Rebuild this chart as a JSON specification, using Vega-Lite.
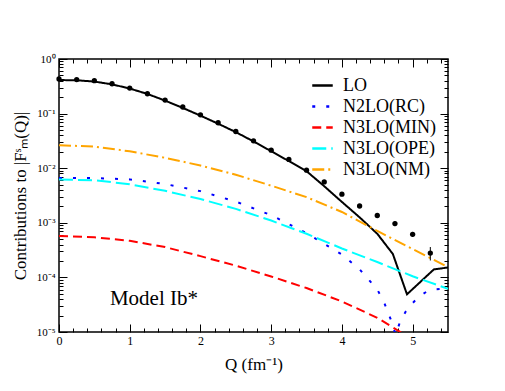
{
  "$schema": "https://vega.github.io/schema/vega-lite/v6.json",
  "autosize": "none",
  "width": 389,
  "height": 273,
  "padding": {"left": 59, "top": 59, "right": 57, "bottom": 59},
  "background": "white",
  "config": {
    "font": "Liberation Serif",
    "view": {"stroke": "black", "strokeWidth": 1.5},
    "axis": {
      "domain": false, "grid": false, "tickColor": "black", "tickWidth": 1,
      "labelColor": "black", "labelFont": "Liberation Serif", "labelFontSize": 11,
      "titleFont": "Liberation Serif", "titleFontWeight": "normal", "titleFontSize": 17, "titleColor": "black",
      "labelOverlap": false, "labelFlush": false
    },
    "legend": {"labelFont": "Liberation Serif", "labelFontSize": 18, "labelColor": "black"}
  },
  "datasets": {
    "lines": [
      {"Q": 0, "F": 0.412, "s": "LO"},
      {"Q": 0.25, "F": 0.407, "s": "LO"},
      {"Q": 0.5, "F": 0.386, "s": "LO"},
      {"Q": 0.75, "F": 0.343, "s": "LO"},
      {"Q": 1.0, "F": 0.288, "s": "LO"},
      {"Q": 1.25, "F": 0.229, "s": "LO"},
      {"Q": 1.5, "F": 0.173, "s": "LO"},
      {"Q": 1.75, "F": 0.127, "s": "LO"},
      {"Q": 2.0, "F": 0.0918, "s": "LO"},
      {"Q": 2.25, "F": 0.0653, "s": "LO"},
      {"Q": 2.5, "F": 0.0458, "s": "LO"},
      {"Q": 2.75, "F": 0.0309, "s": "LO"},
      {"Q": 3.0, "F": 0.0205, "s": "LO"},
      {"Q": 3.25, "F": 0.0135, "s": "LO"},
      {"Q": 3.5, "F": 0.00881, "s": "LO"},
      {"Q": 3.75, "F": 0.00468, "s": "LO"},
      {"Q": 4.0, "F": 0.00241, "s": "LO"},
      {"Q": 4.25, "F": 0.00126, "s": "LO"},
      {"Q": 4.5, "F": 0.00063, "s": "LO"},
      {"Q": 4.72, "F": 0.000269, "s": "LO"},
      {"Q": 4.92, "F": 0.000049, "s": "LO"},
      {"Q": 5.3, "F": 0.00014, "s": "LO"},
      {"Q": 5.5, "F": 0.000152, "s": "LO"},

      {"Q": 0, "F": 0.00664, "s": "N2LO(RC)"},
      {"Q": 0.5, "F": 0.00661, "s": "N2LO(RC)"},
      {"Q": 1.0, "F": 0.00624, "s": "N2LO(RC)"},
      {"Q": 1.5, "F": 0.00513, "s": "N2LO(RC)"},
      {"Q": 2.0, "F": 0.0038, "s": "N2LO(RC)"},
      {"Q": 2.5, "F": 0.00245, "s": "N2LO(RC)"},
      {"Q": 3.0, "F": 0.00138, "s": "N2LO(RC)"},
      {"Q": 3.5, "F": 0.000646, "s": "N2LO(RC)"},
      {"Q": 4.0, "F": 0.000263, "s": "N2LO(RC)"},
      {"Q": 4.25, "F": 0.000141, "s": "N2LO(RC)"},
      {"Q": 4.5, "F": 0.0000603, "s": "N2LO(RC)"},
      {"Q": 4.6, "F": 0.0000339, "s": "N2LO(RC)"},
      {"Q": 4.7, "F": 0.0000158, "s": "N2LO(RC)"},
      {"Q": 4.76, "F": 0.0000089, "s": "N2LO(RC)"},
      {"Q": 4.82, "F": 0.0000151, "s": "N2LO(RC)"},
      {"Q": 4.9, "F": 0.0000234, "s": "N2LO(RC)"},
      {"Q": 5.0, "F": 0.0000339, "s": "N2LO(RC)"},
      {"Q": 5.1, "F": 0.0000457, "s": "N2LO(RC)"},
      {"Q": 5.2, "F": 0.000055, "s": "N2LO(RC)"},
      {"Q": 5.3, "F": 0.0000603, "s": "N2LO(RC)"},
      {"Q": 5.5, "F": 0.0000631, "s": "N2LO(RC)"},

      {"Q": 0, "F": 0.000573, "s": "N3LO(MIN)"},
      {"Q": 0.5, "F": 0.000543, "s": "N3LO(MIN)"},
      {"Q": 1.0, "F": 0.000468, "s": "N3LO(MIN)"},
      {"Q": 1.5, "F": 0.000359, "s": "N3LO(MIN)"},
      {"Q": 2.0, "F": 0.000245, "s": "N3LO(MIN)"},
      {"Q": 2.5, "F": 0.000164, "s": "N3LO(MIN)"},
      {"Q": 3.0, "F": 0.000104, "s": "N3LO(MIN)"},
      {"Q": 3.5, "F": 0.0000638, "s": "N3LO(MIN)"},
      {"Q": 4.0, "F": 0.0000363, "s": "N3LO(MIN)"},
      {"Q": 4.5, "F": 0.0000182, "s": "N3LO(MIN)"},
      {"Q": 4.8, "F": 0.0000105, "s": "N3LO(MIN)"},
      {"Q": 5.0, "F": 0.00000708, "s": "N3LO(MIN)"},

      {"Q": 0, "F": 0.00619, "s": "N3LO(OPE)"},
      {"Q": 0.5, "F": 0.00603, "s": "N3LO(OPE)"},
      {"Q": 1.0, "F": 0.00507, "s": "N3LO(OPE)"},
      {"Q": 1.5, "F": 0.00385, "s": "N3LO(OPE)"},
      {"Q": 2.0, "F": 0.00272, "s": "N3LO(OPE)"},
      {"Q": 2.5, "F": 0.0018, "s": "N3LO(OPE)"},
      {"Q": 3.0, "F": 0.0011, "s": "N3LO(OPE)"},
      {"Q": 3.5, "F": 0.000631, "s": "N3LO(OPE)"},
      {"Q": 4.0, "F": 0.000339, "s": "N3LO(OPE)"},
      {"Q": 4.5, "F": 0.000191, "s": "N3LO(OPE)"},
      {"Q": 5.0, "F": 0.000105, "s": "N3LO(OPE)"},
      {"Q": 5.5, "F": 0.0000617, "s": "N3LO(OPE)"},

      {"Q": 0, "F": 0.0264, "s": "N3LO(NM)"},
      {"Q": 0.5, "F": 0.0248, "s": "N3LO(NM)"},
      {"Q": 1.0, "F": 0.0204, "s": "N3LO(NM)"},
      {"Q": 1.5, "F": 0.0155, "s": "N3LO(NM)"},
      {"Q": 2.0, "F": 0.0112, "s": "N3LO(NM)"},
      {"Q": 2.5, "F": 0.00759, "s": "N3LO(NM)"},
      {"Q": 3.0, "F": 0.00479, "s": "N3LO(NM)"},
      {"Q": 3.5, "F": 0.00295, "s": "N3LO(NM)"},
      {"Q": 4.0, "F": 0.00158, "s": "N3LO(NM)"},
      {"Q": 4.5, "F": 0.000708, "s": "N3LO(NM)"},
      {"Q": 5.0, "F": 0.000331, "s": "N3LO(NM)"},
      {"Q": 5.5, "F": 0.000155, "s": "N3LO(NM)"}
    ],
    "exp": [
      {"Q": 0, "F": 0.43},
      {"Q": 0.25, "F": 0.42},
      {"Q": 0.5, "F": 0.40},
      {"Q": 0.75, "F": 0.352},
      {"Q": 1.0, "F": 0.294},
      {"Q": 1.25, "F": 0.231},
      {"Q": 1.5, "F": 0.177},
      {"Q": 1.75, "F": 0.132},
      {"Q": 2.0, "F": 0.095},
      {"Q": 2.25, "F": 0.068},
      {"Q": 2.5, "F": 0.047},
      {"Q": 2.75, "F": 0.0317},
      {"Q": 3.0, "F": 0.0214},
      {"Q": 3.25, "F": 0.01445},
      {"Q": 3.5, "F": 0.0092},
      {"Q": 3.75, "F": 0.0056},
      {"Q": 4.0, "F": 0.00334},
      {"Q": 4.25, "F": 0.00203, "lo": 0.0019, "hi": 0.00216},
      {"Q": 4.5, "F": 0.00136, "lo": 0.00125, "hi": 0.00148},
      {"Q": 4.75, "F": 0.000966, "lo": 0.00087, "hi": 0.00107},
      {"Q": 5.0, "F": 0.000615, "lo": 0.00055, "hi": 0.00068},
      {"Q": 5.25, "F": 0.000279, "lo": 0.000204, "hi": 0.00036}
    ],
    "note": [{"label": "Model Ib*"}]
  },
  "resolve": {"axis": {"x": "independent", "y": "independent"}},
  "layer": [
    {
      "data": {"name": "lines"},
      "mark": {"type": "line", "strokeWidth": 2, "clip": true, "strokeCap": "butt"},
      "encoding": {
        "x": {
          "field": "Q", "type": "quantitative",
          "scale": {"domain": [0, 5.5], "nice": false, "zero": false},
          "axis": {
            "orient": "bottom", "title": "Q (fm⁻¹)",
            "values": [0,0.2,0.4,0.6,0.8,1,1.2,1.4,1.6,1.8,2,2.2,2.4,2.6,2.8,3,3.2,3.4,3.6,3.8,4,4.2,4.4,4.6,4.8,5,5.2,5.4],
            "tickSize": {"expr": "abs(datum.value - round(datum.value)) < 0.001 ? -8 : -4"},
            "labelExpr": "abs(datum.value - round(datum.value)) < 0.001 ? format(datum.value, 'd') : ''",
            "labelPadding": 11, "titlePadding": 6, "labelFontSize": 12
          }
        },
        "y": {
          "field": "F", "type": "quantitative",
          "scale": {"type": "log", "domain": [0.00001, 1], "nice": false},
          "axis": {
            "orient": "left", "title": "Contributions to |Fˢₘ(Q)|",
            "values": [0.00001,0.00002,0.00003,0.00004,0.00005,0.00006,0.00007,0.00008,0.00009,0.0001,0.0002,0.0003,0.0004,0.0005,0.0006,0.0007,0.0008,0.0009,0.001,0.002,0.003,0.004,0.005,0.006,0.007,0.008,0.009,0.01,0.02,0.03,0.04,0.05,0.06,0.07,0.08,0.09,0.1,0.2,0.3,0.4,0.5,0.6,0.7,0.8,0.9,1],
            "tickSize": {"expr": "abs(log(datum.value)/LN10 - round(log(datum.value)/LN10)) < 0.001 ? -8 : -4"},
            "labelExpr": "abs(log(datum.value)/LN10 - round(log(datum.value)/LN10)) < 0.001 ? ['10⁰','10⁻¹','10⁻²','10⁻³','10⁻⁴','10⁻⁵'][abs(round(log(datum.value)/LN10))] : ''",
            "labelPadding": 12, "titlePadding": 7
          }
        },
        "color": {
          "field": "s", "type": "nominal",
          "scale": {"domain": ["LO","N2LO(RC)","N3LO(MIN)","N3LO(OPE)","N3LO(NM)"], "range": ["#000000","#0000ff","#ff0000","#00ffff","#ffa500"]},
          "legend": {"title": null, "orient": "none", "legendX": 252, "legendY": 15, "symbolType": "stroke", "symbolSize": 420, "symbolStrokeWidth": 2.5, "labelOffset": 9, "rowPadding": 0}
        },
        "strokeDash": {
          "field": "s", "type": "nominal",
          "scale": {"domain": ["LO","N2LO(RC)","N3LO(MIN)","N3LO(OPE)","N3LO(NM)"], "range": [[1,0],[3,11],[9,5],[14,5],[12,4,2,4]]},
          "legend": {"title": null, "orient": "none", "legendX": 252, "legendY": 15, "symbolType": "stroke", "symbolSize": 420, "symbolStrokeWidth": 2.5, "labelOffset": 9, "rowPadding": 0}
        }
      }
    },
    {
      "data": {"name": "exp"},
      "mark": {"type": "point", "filled": true, "size": 28, "color": "black", "opacity": 1},
      "encoding": {
        "x": {
          "field": "Q", "type": "quantitative",
          "scale": {"domain": [0, 5.5], "nice": false, "zero": false},
          "axis": {
            "orient": "top", "title": null, "labels": false,
            "values": [0,0.2,0.4,0.6,0.8,1,1.2,1.4,1.6,1.8,2,2.2,2.4,2.6,2.8,3,3.2,3.4,3.6,3.8,4,4.2,4.4,4.6,4.8,5,5.2,5.4],
            "tickSize": {"expr": "abs(datum.value - round(datum.value)) < 0.001 ? -8 : -4"}
          }
        },
        "y": {
          "field": "F", "type": "quantitative",
          "scale": {"type": "log", "domain": [0.00001, 1], "nice": false},
          "axis": {
            "orient": "right", "title": null, "labels": false,
            "values": [0.00001,0.00002,0.00003,0.00004,0.00005,0.00006,0.00007,0.00008,0.00009,0.0001,0.0002,0.0003,0.0004,0.0005,0.0006,0.0007,0.0008,0.0009,0.001,0.002,0.003,0.004,0.005,0.006,0.007,0.008,0.009,0.01,0.02,0.03,0.04,0.05,0.06,0.07,0.08,0.09,0.1,0.2,0.3,0.4,0.5,0.6,0.7,0.8,0.9,1],
            "tickSize": {"expr": "abs(log(datum.value)/LN10 - round(log(datum.value)/LN10)) < 0.001 ? -8 : -4"}
          }
        }
      }
    },
    {
      "data": {"name": "exp"},
      "transform": [{"filter": "isValid(datum.lo)"}],
      "mark": {"type": "rule", "color": "black", "strokeWidth": 1},
      "encoding": {
        "x": {"field": "Q", "type": "quantitative", "axis": null},
        "y": {"field": "lo", "type": "quantitative", "scale": {"type": "log", "domain": [0.00001, 1], "nice": false}, "axis": null},
        "y2": {"field": "hi"}
      }
    },
    {
      "data": {"name": "note"},
      "mark": {"type": "text", "font": "Liberation Serif", "fontSize": 21, "align": "left", "baseline": "alphabetic", "color": "black"},
      "encoding": {
        "text": {"field": "label"},
        "x": {"datum": 0.72, "type": "quantitative", "axis": null},
        "y": {"datum": 0.0000306, "type": "quantitative", "axis": null}
      }
    }
  ]
}
